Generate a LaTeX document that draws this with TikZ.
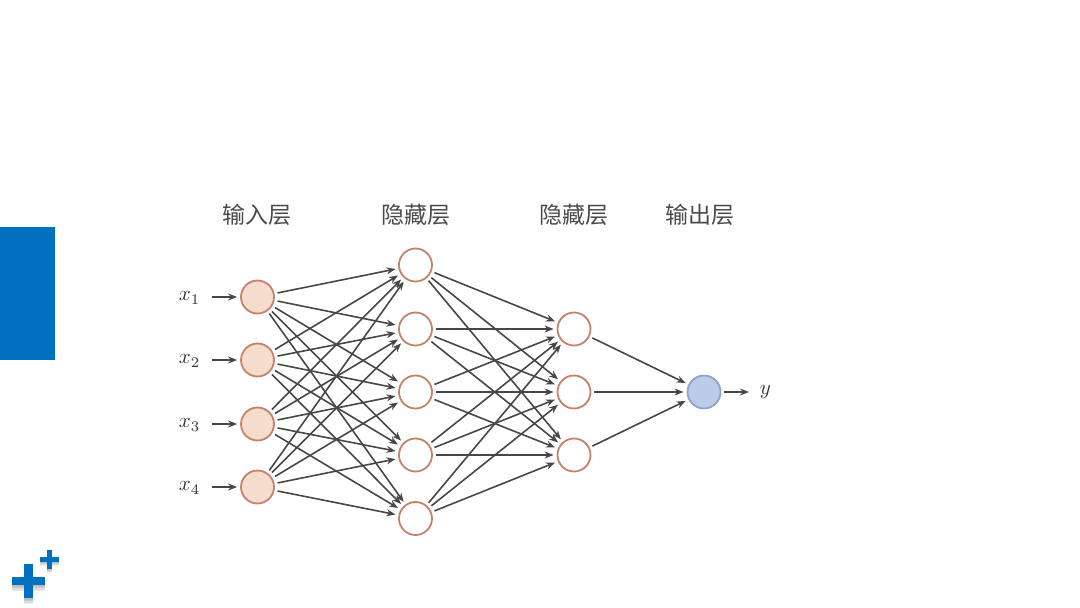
\documentclass[tikz,border=0pt]{standalone}
\usepackage{fontspec}
\newfontfamily\cjk{Noto Sans CJK SC}
\usetikzlibrary{arrows.meta}
\definecolor{barblue}{HTML}{0070C0}
\definecolor{inedge}{HTML}{C8806A}
\definecolor{infill}{HTML}{F6DCCD}
\definecolor{outedge}{HTML}{8FA3C4}
\definecolor{outfill}{HTML}{B9CBE6}
\definecolor{linkgray}{HTML}{474747}
\definecolor{textgray}{HTML}{4A4A4A}
\tikzset{
  x=1pt,y=-1pt,
  neuron/.style={circle,draw=inedge,line width=1.8pt,fill=white,minimum size=33pt,inner sep=0pt},
  innode/.style={neuron,fill=infill},
  outnode/.style={neuron,draw=outedge,fill=outfill},
  link/.style={draw=linkgray,line width=1.6pt,-{Stealth[length=9pt,width=7pt]},shorten <=3pt,shorten >=3pt},
  layerlabel/.style={font=\cjk\fontsize{23}{23}\selectfont,text=textgray,inner sep=0pt},
  varlabel/.style={text=black!80,scale=2.1,inner sep=0pt},
  bluefill/.style={fill=barblue,draw=none},
  shade/.style={fill=black,opacity=0.07,draw=none}
}
\begin{document}
\begin{tikzpicture}
\useasboundingbox (0,0) rectangle (1080,608);
\fill[bluefill] (0,227) rectangle (55,360);
% plus icon with a soft shadow
\foreach \d in {1.5,3,4.5,6} {
  \fill[shade] (12,577+\d) rectangle (45,585+\d);
  \fill[shade] (24,564+\d) rectangle (33,598+\d);
  \fill[shade] (40,557+\d*.6) rectangle (59,562+\d*.6);
  \fill[shade] (47,550+\d*.6) rectangle (52,569+\d*.6);
}
\fill[bluefill] (12,577) rectangle (45,585);
\fill[bluefill] (24,564) rectangle (33,598);
\fill[bluefill] (40,557) rectangle (59,562);
\fill[bluefill] (47,550) rectangle (52,569);
% layers
\foreach \n/\y in {1/297,2/360,3/424,4/487} \node[innode] (i\n) at (257.5,\y) {};
\foreach \n/\y in {1/265,2/329,3/392,4/455,5/518.5} \node[neuron] (a\n) at (415.5,\y) {};
\foreach \n/\y in {1/329,2/392,3/455} \node[neuron] (b\n) at (574,\y) {};
\node[outnode] (o) at (704,392) {};
% links
\foreach \s in {1,2,3,4} \foreach \t in {1,2,3,4,5} \draw[link] (i\s) -- (a\t);
\foreach \s in {1,2,3,4,5} \foreach \t in {1,2,3} \draw[link] (a\s) -- (b\t);
\foreach \s in {1,2,3} \draw[link] (b\s) -- (o);
% inputs
\foreach \n/\y in {1/297,2/360,3/424,4/487} {
  \node[varlabel] (x\n) at (189.5,\y+1) {$x_{\n}$};
  \coordinate (s\n) at (212,\y);
  \draw[link,shorten <=0pt] (s\n) -- (i\n);
}
\coordinate (e) at (749,392);
\draw[link,shorten >=0pt] (o) -- (e);
\node[varlabel] (y) at (765.5,392) {$y$};
% labels
\node[layerlabel] (l1) at (257,215) {输入层};
\node[layerlabel] (l2) at (415.5,215) {隐藏层};
\node[layerlabel] (l3) at (574,215) {隐藏层};
\node[layerlabel] (l4) at (699.5,215) {输出层};
\end{tikzpicture}
\end{document}
